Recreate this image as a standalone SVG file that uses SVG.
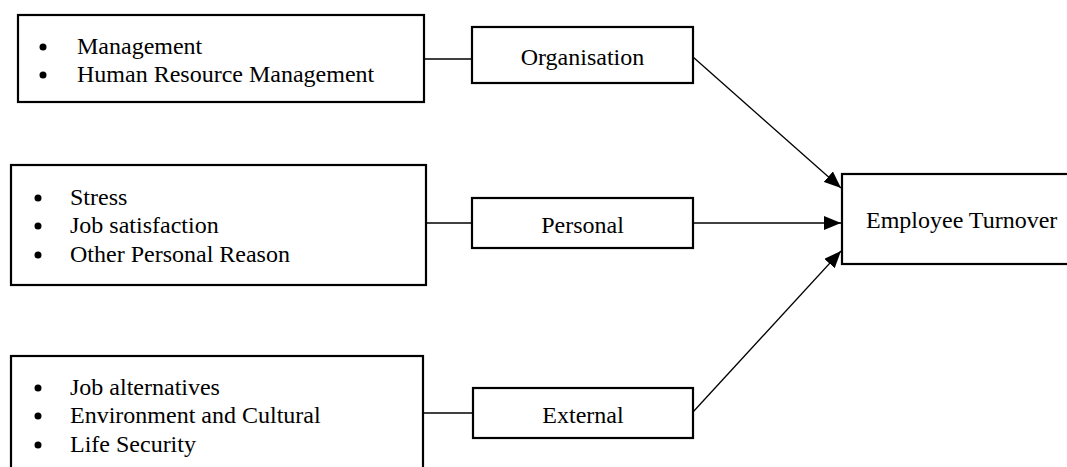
<svg xmlns="http://www.w3.org/2000/svg" width="1067" height="467" viewBox="0 0 1067 467">
<style>
.box{fill:#fff;stroke:#000;stroke-width:2.2}
.t{font-family:"Liberation Serif","Times New Roman",serif;font-size:24px;fill:#000}
.c{stroke:#000;stroke-width:1.3;fill:none}
.b{fill:#000}
</style>
<defs>
<marker id="ah" markerUnits="userSpaceOnUse" markerWidth="18" markerHeight="14" refX="17" refY="7" orient="auto">
<path d="M0,0 L17,7 L0,14 Z" fill="#000"/>
</marker>
</defs>
<rect width="1067" height="467" fill="#fff"/>
<g id="connectors">
<line class="c" x1="424" y1="59" x2="472" y2="59"/>
<line class="c" x1="426" y1="223" x2="472" y2="223"/>
<line class="c" x1="423" y1="413" x2="473" y2="413"/>
<line class="c" x1="693" y1="57" x2="841" y2="188" marker-end="url(#ah)"/>
<line class="c" x1="693" y1="223" x2="841" y2="223" marker-end="url(#ah)"/>
<line class="c" x1="693" y1="412" x2="841" y2="251" marker-end="url(#ah)"/>
</g>
<g id="org-factors">
<rect class="box" x="18" y="15" width="406" height="87"/>
<circle class="b" cx="43" cy="47" r="3.5"/>
<circle class="b" cx="43" cy="75" r="3.5"/>
<text class="t" x="77" y="54">Management</text>
<text class="t" x="77" y="82">Human Resource Management</text>
</g>
<g id="personal-factors">
<rect class="box" x="11" y="165" width="415" height="120"/>
<circle class="b" cx="38" cy="198" r="3.5"/>
<circle class="b" cx="38" cy="226" r="3.5"/>
<circle class="b" cx="38" cy="255" r="3.5"/>
<text class="t" x="70" y="205">Stress</text>
<text class="t" x="70" y="233">Job satisfaction</text>
<text class="t" x="70" y="262">Other Personal Reason</text>
</g>
<g id="external-factors">
<rect class="box" x="11" y="356" width="412" height="130"/>
<circle class="b" cx="38" cy="388" r="3.5"/>
<circle class="b" cx="38" cy="416" r="3.5"/>
<circle class="b" cx="38" cy="445" r="3.5"/>
<text class="t" x="70" y="395">Job alternatives</text>
<text class="t" x="70" y="423">Environment and Cultural</text>
<text class="t" x="70" y="452">Life Security</text>
</g>
<g id="organisation">
<rect class="box" x="472" y="27" width="221" height="56"/>
<text class="t" x="582.5" y="65" text-anchor="middle">Organisation</text>
</g>
<g id="personal">
<rect class="box" x="472" y="198" width="221" height="50"/>
<text class="t" x="582.5" y="233" text-anchor="middle">Personal</text>
</g>
<g id="external">
<rect class="box" x="473" y="388" width="220" height="50"/>
<text class="t" x="583" y="423" text-anchor="middle">External</text>
</g>
<g id="employee-turnover">
<rect class="box" x="842" y="174" width="240" height="90"/>
<text class="t" x="866" y="228">Employee Turnover</text>
</g>
</svg>
